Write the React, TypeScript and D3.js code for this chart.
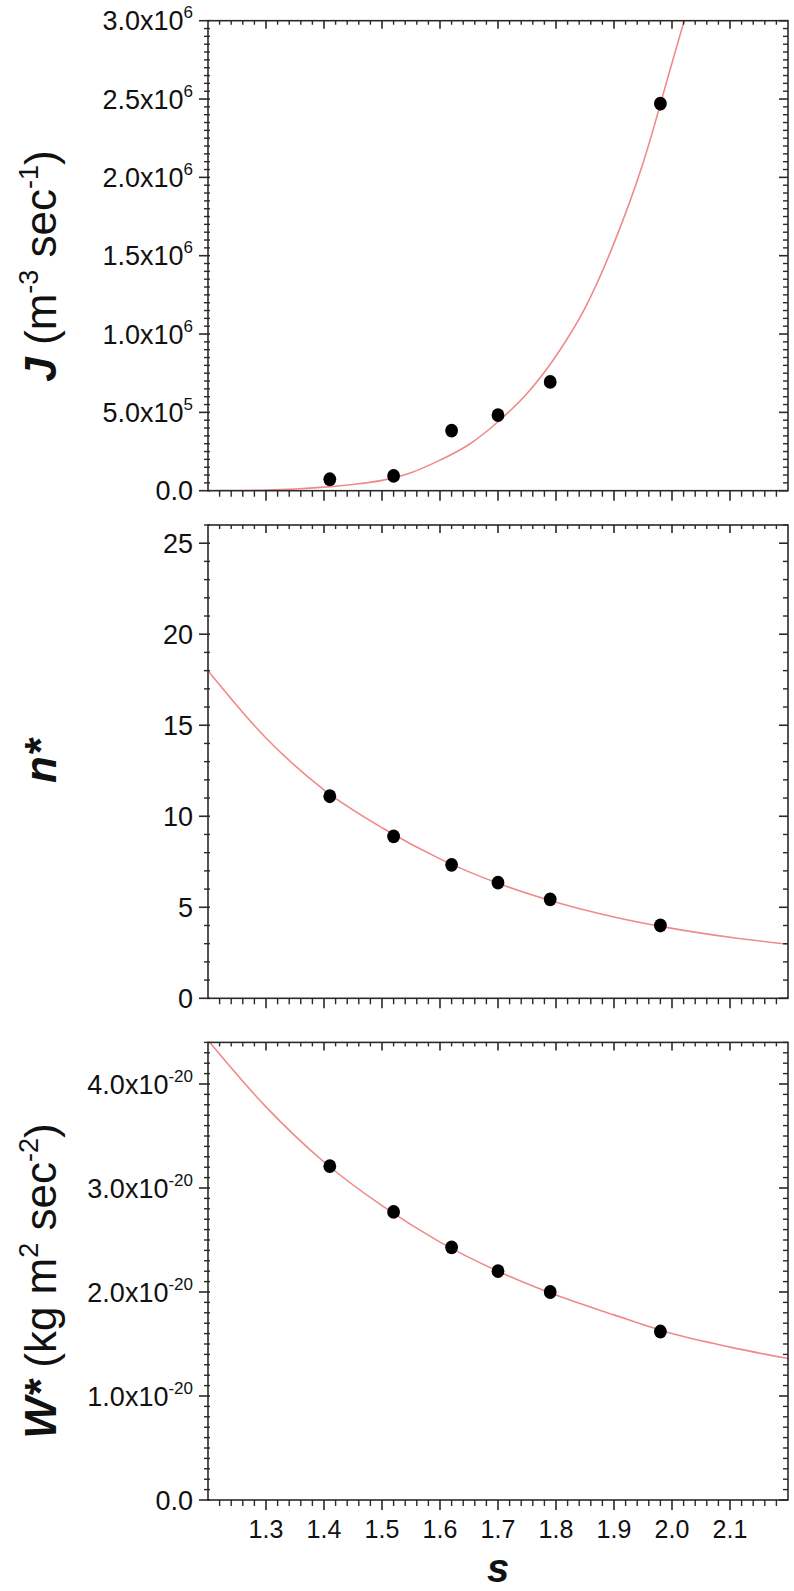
import React from 'react';
import * as d3 from 'd3';

// ---- data ----
const sValues = [1.41, 1.52, 1.62, 1.70, 1.79, 1.98];
const jValues = [7.3e4, 9.4e4, 3.83e5, 4.83e5, 6.94e5, 2.47e6];
const nValues = [11.1, 8.9, 7.33, 6.35, 5.43, 4.0];
const wValues = [3.21e-20, 2.77e-20, 2.43e-20, 2.2e-20, 2.0e-20, 1.62e-20];

// fitted curves
const jFitS = [1.2, 1.25, 1.3, 1.35, 1.4, 1.45, 1.5, 1.55, 1.6, 1.65, 1.7, 1.75, 1.8, 1.85, 1.9, 1.95, 2.0, 2.021];
const jFitV = [0, 800, 4000, 11000, 23000, 40000, 66000, 115000, 195000, 295000, 440000, 620000, 860000, 1165000, 1580000, 2090000, 2730000, 3000000];
const nFitS = [1.2, 1.3, 1.4, 1.5, 1.6, 1.7, 1.8, 1.9, 2.0, 2.1, 2.2];
const nFitV = [18.0, 14.3, 11.45, 9.37, 7.66, 6.32, 5.28, 4.47, 3.84, 3.35, 2.97];
const wFitS = [1.2, 1.3, 1.4, 1.5, 1.6, 1.7, 1.8, 1.9, 2.0, 2.1, 2.2];
const wFitV = [4.42e-20, 3.78e-20, 3.25e-20, 2.83e-20, 2.48e-20, 2.2e-20, 1.97e-20, 1.78e-20, 1.6e-20, 1.47e-20, 1.36e-20];

// tick labels
const xTickValues = [1.3, 1.4, 1.5, 1.6, 1.7, 1.8, 1.9, 2.0, 2.1];
const xTickLabels = ['1.3', '1.4', '1.5', '1.6', '1.7', '1.8', '1.9', '2.0', '2.1'];
const jTickValues = [0, 5e5, 1e6, 1.5e6, 2e6, 2.5e6, 3e6];
const jTickMant = ['0.0', '5.0x10', '1.0x10', '1.5x10', '2.0x10', '2.5x10', '3.0x10'];
const jTickExp = ['', '5', '6', '6', '6', '6', '6'];
const nTickValues = [0, 5, 10, 15, 20, 25];
const nTickLabels = ['0', '5', '10', '15', '20', '25'];
const wTickValues = [0, 1e-20, 2e-20, 3e-20, 4e-20];
const wTickMant = ['0.0', '1.0x10', '2.0x10', '3.0x10', '4.0x10'];
const wTickExp = ['', '-20', '-20', '-20', '-20'];

const FONT = '"Liberation Sans", Arial, Helvetica, sans-serif';
const X0 = 208;
const X1 = 788;
const AXIS = '#2a2a2a';
const FIT = '#f08a8a';

const x = d3.scaleLinear().domain([1.2, 2.2]).range([X0, X1]);

type PanelProps = {
  id: string;
  top: number;
  bottom: number;
  domain: [number, number];
  minorStep: number;
  tickValues: number[];
  mant: string[];
  exp: string[];
  fitS: number[];
  fitV: number[];
  ptsY: number[];
  showXLabels: boolean;
  title: React.ReactNode;
  titleY: number;
};

function Panel(p: PanelProps) {
  const y = d3.scaleLinear().domain(p.domain).range([p.bottom, p.top]);
  const xMinor = d3.range(1.2, 2.2001, 0.02).filter((v) => Math.abs(v * 10 - Math.round(v * 10)) > 1e-6);
  const yMinor = d3
    .range(p.domain[0], p.domain[1] + p.minorStep * 0.01, p.minorStep)
    .filter((v) => !p.tickValues.some((t) => Math.abs(t - v) < p.minorStep * 0.01));
  const line = d3
    .line<number>()
    .x((_, i) => x(p.fitS[i]))
    .y((d) => y(d))
    .curve(d3.curveMonotoneX);
  const clipId = 'clip-' + p.id;
  return (
    <g>
      <defs>
        <clipPath id={clipId}>
          <rect x={X0} y={p.top} width={X1 - X0} height={p.bottom - p.top} />
        </clipPath>
      </defs>
      <path d={line(p.fitV) || ''} fill="none" stroke={FIT} strokeWidth={1.6} clipPath={`url(#${clipId})`} />
      {sValues.map((s, i) => (
        <ellipse key={i} cx={x(s)} cy={y(p.ptsY[i])} rx={6.4} ry={6.9} fill="#000" />
      ))}
      <rect x={X0} y={p.top} width={X1 - X0} height={p.bottom - p.top} fill="none" stroke={AXIS} strokeWidth={1.6} />
      {xMinor.map((v, i) => (
        <line key={'bm' + i} x1={x(v)} x2={x(v)} y1={p.bottom} y2={p.bottom + 6} stroke={AXIS} strokeWidth={1.4} />
      ))}
      {xTickValues.map((v, i) => (
        <line key={'bM' + i} x1={x(v)} x2={x(v)} y1={p.bottom} y2={p.bottom + 10} stroke={AXIS} strokeWidth={1.6} />
      ))}
      {xMinor.map((v, i) => (
        <line key={'tm' + i} x1={x(v)} x2={x(v)} y1={p.top} y2={p.top + 4} stroke={AXIS} strokeWidth={1.4} />
      ))}
      {xTickValues.map((v, i) => (
        <line key={'tM' + i} x1={x(v)} x2={x(v)} y1={p.top} y2={p.top + 8} stroke={AXIS} strokeWidth={1.6} />
      ))}
      {yMinor.map((v, i) => (
        <line key={'lm' + i} x1={X0 - 4} x2={X0 + 2} y1={y(v)} y2={y(v)} stroke={AXIS} strokeWidth={1.4} />
      ))}
      {p.tickValues.map((v, i) => (
        <line key={'lM' + i} x1={X0 - 9} x2={X0 + 2} y1={y(v)} y2={y(v)} stroke={AXIS} strokeWidth={1.6} />
      ))}
      {yMinor.map((v, i) => (
        <line key={'rm' + i} x1={X1 - 5} x2={X1} y1={y(v)} y2={y(v)} stroke={AXIS} strokeWidth={1.4} />
      ))}
      {p.tickValues.map((v, i) => (
        <line key={'rM' + i} x1={X1 - 9} x2={X1} y1={y(v)} y2={y(v)} stroke={AXIS} strokeWidth={1.6} />
      ))}
      {p.tickValues.map((v, i) => (
        <text key={'yl' + i} x={193} y={y(v)} dy="0.36em" textAnchor="end" fontFamily={FONT} fontSize={27} fill="#111">
          <tspan>{p.mant[i]}</tspan>
          {p.exp[i] ? (
            <tspan dy={-12} fontSize={17}>
              {p.exp[i]}
            </tspan>
          ) : null}
        </text>
      ))}
      {p.showXLabels &&
        xTickValues.map((v, i) => (
          <text key={'xl' + i} x={x(v)} y={p.bottom + 38} textAnchor="middle" fontFamily={FONT} fontSize={25} fill="#111">
            {xTickLabels[i]}
          </text>
        ))}
      <text transform={`translate(56,${p.titleY}) rotate(-90)`} textAnchor="middle" fontFamily={FONT} fontSize={44} fill="#111">
        {p.title}
      </text>
    </g>
  );
}

export default function App() {
  return (
    <svg width={794} height={1591} style={{ display: 'block', position: 'absolute', left: 0, top: 0, background: '#fff' }}>
      <rect x={0} y={0} width={794} height={1591} fill="#fff" />
      <Panel
        id="j"
        top={20.7}
        bottom={490.7}
        domain={[0, 3e6]}
        minorStep={5e4}
        tickValues={jTickValues}
        mant={jTickMant}
        exp={jTickExp}
        fitS={jFitS}
        fitV={jFitV}
        ptsY={jValues}
        showXLabels={false}
        titleY={266}
        title={
          <>
            <tspan fontWeight="bold" fontStyle="italic">J</tspan>
            <tspan> (m</tspan>
            <tspan dy={-18} fontSize={27}>-3</tspan>
            <tspan dy={18}> sec</tspan>
            <tspan dy={-18} fontSize={27}>-1</tspan>
            <tspan dy={18}>)</tspan>
          </>
        }
      />
      <Panel
        id="n"
        top={525}
        bottom={998.3}
        domain={[0, 26]}
        minorStep={1}
        tickValues={nTickValues}
        mant={nTickLabels}
        exp={['', '', '', '', '', '']}
        fitS={nFitS}
        fitV={nFitV}
        ptsY={nValues}
        showXLabels={false}
        titleY={761}
        title={
          <>
            <tspan fontWeight="bold" fontStyle="italic">n*</tspan>
          </>
        }
      />
      <Panel
        id="w"
        top={1042.4}
        bottom={1500}
        domain={[0, 4.4e-20]}
        minorStep={1e-21}
        tickValues={wTickValues}
        mant={wTickMant}
        exp={wTickExp}
        fitS={wFitS}
        fitV={wFitV}
        ptsY={wValues}
        showXLabels={true}
        titleY={1281}
        title={
          <>
            <tspan fontWeight="bold" fontStyle="italic">W*</tspan>
            <tspan> (kg m</tspan>
            <tspan dy={-18} fontSize={27}>2</tspan>
            <tspan dy={18}> sec</tspan>
            <tspan dy={-18} fontSize={27}>-2</tspan>
            <tspan dy={18}>)</tspan>
          </>
        }
      />
      <text x={x(1.7)} y={1582} textAnchor="middle" fontFamily={FONT} fontSize={40} fontWeight="bold" fontStyle="italic" fill="#111">
        s
      </text>
    </svg>
  );
}
